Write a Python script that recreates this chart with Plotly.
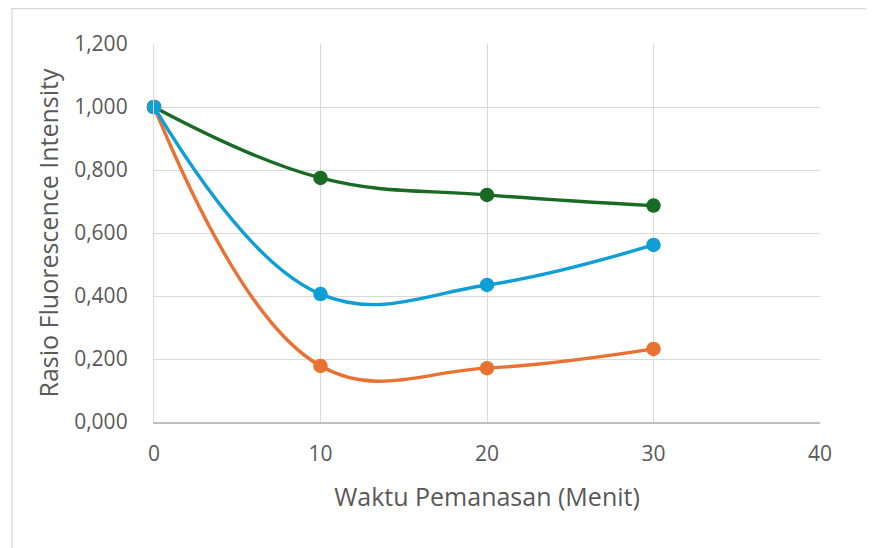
import plotly.graph_objects as go

x_vals = [0, 10, 20, 30]
green_vals = [1.000, 0.775, 0.721, 0.687]
blue_vals = [1.000, 0.406, 0.435, 0.562]
orange_vals = [1.000, 0.178, 0.171, 0.232]
y_ticks = [0, 0.2, 0.4, 0.6, 0.8, 1.0, 1.2]
x_ticks = [0, 10, 20, 30, 40]

W, H = 874, 548
# page body offset of 8px is compensated here
L, T = 146, 36
pw, ph = 666, 378
R, B = W - L - pw, H - T - ph

fig = go.Figure()
for vals, col in [(green_vals, "#196B24"), (orange_vals, "#E97132"), (blue_vals, "#0F9ED5")]:
    fig.add_trace(go.Scatter(
        x=x_vals, y=vals, mode="lines+markers",
        line=dict(color=col, width=3.4, shape="spline", smoothing=1.15),
        marker=dict(color=col, size=14.5),
        showlegend=False, cliponaxis=False))

font_fam = "Open Sans, Liberation Sans, sans-serif"
fig.update_layout(
    width=W, height=H,
    margin=dict(l=L, r=R, t=T, b=B),
    paper_bgcolor="white", plot_bgcolor="white",
    separators=",.",
    font=dict(family=font_fam, color="#595959", size=21),
    xaxis=dict(range=[0, 40], tickvals=x_ticks, showgrid=True, gridcolor="#D9D9D9", gridwidth=1.3,
               showline=True, linecolor="#BFBFBF", linewidth=1.5, zeroline=False,
               ticks="", ticklabelstandoff=12, tickfont=dict(size=21, color="#595959"),
               title=dict(text="Waktu Pemanasan (Menit)", font=dict(size=25, color="#595959"), standoff=23)),
    yaxis=dict(range=[0, 1.2], tickvals=y_ticks, tickformat=".3f", showgrid=True, gridcolor="#D9D9D9",
               gridwidth=1.3, showline=True, linecolor="#D9D9D9", linewidth=1.3, zeroline=False,
               ticks="", ticklabelstandoff=21, tickfont=dict(size=21, color="#595959"),
               title=dict(text="Rasio Fluorescence Intensity", font=dict(size=25, color="#595959"), standoff=8)),
)

# outer chart border (figure pixel coords -> paper coords)
fig.add_shape(type="rect", xref="paper", yref="paper",
              x0=(4 - L) / pw, x1=(890 - L) / pw,
              y0=(T + ph - 570) / ph, y1=(T + ph - 0.7) / ph,
              line=dict(color="#D9D9D9", width=1.3), fillcolor="rgba(0,0,0,0)", layer="below")

fig.write_html("out.html")
